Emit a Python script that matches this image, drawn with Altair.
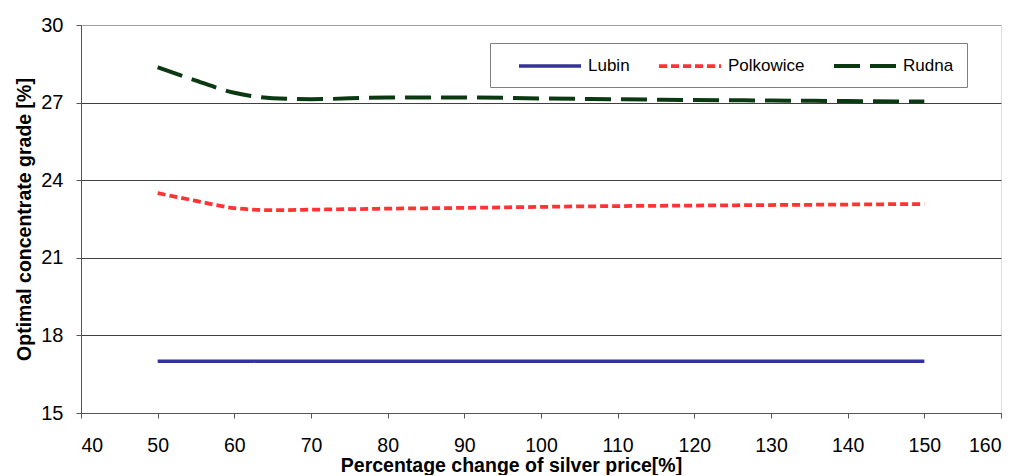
import altair as alt
import pandas as pd

x_vals = [50, 55, 60, 65, 70, 80, 90, 100, 110, 120, 130, 140, 150]
lubin = [17.0] * 13
polkowice = [23.50, 23.20, 22.92, 22.84, 22.86, 22.90, 22.93, 22.97, 23.00, 23.02, 23.04, 23.06, 23.08]
rudna = [28.37, 27.85, 27.38, 27.17, 27.13, 27.20, 27.20, 27.16, 27.13, 27.10, 27.08, 27.06, 27.04]

series = ["Lubin", "Polkowice", "Rudna"]
rows = []
for name, vals in zip(series, [lubin, polkowice, rudna]):
    for xv, yv in zip(x_vals, vals):
        rows.append({"x": xv, "y": yv, "series": name})
df = pd.DataFrame(rows)

font = "Liberation Sans"
colors = ["#333399", "#FF3333", "#0B3A12"]
dashes = [[1, 0], [8, 4], [26, 10]]
widths = [3.5, 4, 5]

base = alt.Chart(df).mark_line(interpolate="monotone").encode(
    x=alt.X("x:Q", scale=alt.Scale(domain=[40, 160], nice=False),
            axis=alt.Axis(values=list(range(40, 161, 10)), title="Percentage change of silver price[%]",
                          grid=False, tickSize=5, labelPadding=18,
                          titleBaseline="alphabetic", titleY=58, titleX=430,
                          domainColor="#555555", tickColor="#555555", labelColor="#000000",
                          labelFontSize=19.5, labelFont=font, titleFont=font, titleFontSize=19.5,
                          titleFontWeight="bold", titleColor="#000000")),
    y=alt.Y("y:Q", scale=alt.Scale(domain=[15, 30], nice=False),
            axis=alt.Axis(values=[15, 18, 21, 24, 27, 30], title="Optimal concentrate grade [%]",
                          grid=True,
                          gridColor={"condition": {"test": "datum.value === 30", "value": "#A0A0A0"},
                                     "value": "#404040"},
                          gridWidth=1, tickSize=5, labelPadding=13,
                          titlePadding=6,
                          domainColor="#555555", tickColor="#555555", labelColor="#000000",
                          labelFontSize=20, labelFont=font, titleFont=font, titleFontSize=19.5,
                          titleFontWeight="bold", titleColor="#000000")),
    color=alt.Color("series:N", scale=alt.Scale(domain=series, range=colors),
                    legend=alt.Legend(title=None, orient="none", legendX=409, legendY=18,
                                      direction="horizontal", symbolType="M0.75,0H8.5",
                                      symbolSize=256, symbolStrokeWidth=3.5,
                                      labelFont=font, labelFontSize=17, labelColor="#000000",
                                      strokeColor="#808080", padding=13, columnPadding=13,
                                      labelOffset=65, fillColor="white")),
    strokeDash=alt.StrokeDash("series:N", scale=alt.Scale(domain=series, range=dashes), legend=None),
    strokeWidth=alt.StrokeWidth("series:N", scale=alt.Scale(domain=series, range=widths), legend=None),
)

chart = base.properties(
    width=920, height=388,
    padding={"left": 73, "top": 17, "right": 9, "bottom": 62},
    autosize=alt.AutoSizeParams(type="none"),
).configure_view(stroke="#A0A0A0", strokeWidth=1.5).configure(background="white")

chart.save("out.html", embed_options={"renderer": "svg", "actions": False})
